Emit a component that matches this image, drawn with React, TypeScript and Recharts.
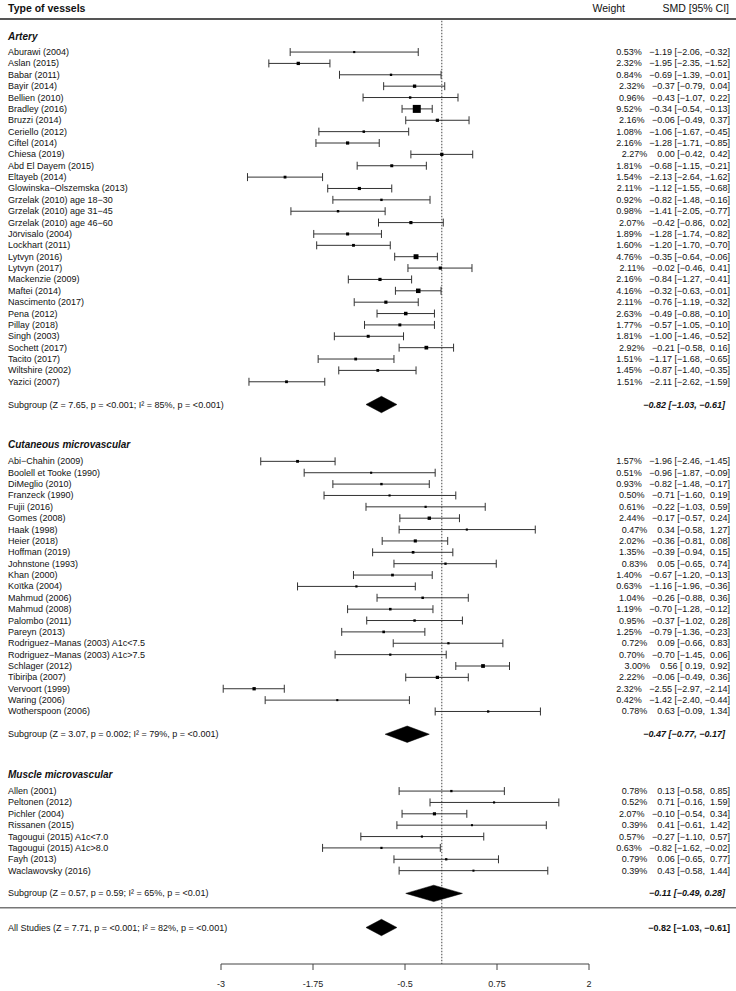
import React from "react"
import { ScatterChart, Scatter, XAxis, YAxis, ErrorBar, ReferenceLine } from "recharts"

// Artery
const arteryNames = [
  "Aburawi (2004)", "Aslan (2015)", "Babar (2011)", "Bayir (2014)", "Bellien (2010)",
  "Bradley (2016)", "Bruzzi (2014)", "Ceriello (2012)", "Ciftel (2014)", "Chiesa (2019)",
  "Abd El Dayem (2015)", "Eltayeb (2014)", "Glowinska\u2212Olszemska (2013)",
  "Grzelak (2010) age 18\u221230", "Grzelak (2010) age 31\u221245", "Grzelak (2010) age 46\u221260",
  "J\u00f6rvisalo (2004)", "Lockhart (2011)", "Lytvyn (2016)", "Lytvyn (2017)",
  "Mackenzie (2009)", "Maftei (2014)", "Nascimento (2017)", "Pena (2012)", "Pillay (2018)",
  "Singh (2003)", "Sochett (2017)", "Tacito (2017)", "Wiltshire (2002)", "Yazici (2007)",
]
const arteryWeight = [0.53, 2.32, 0.84, 2.32, 0.96, 9.52, 2.16, 1.08, 2.16, 2.27, 1.81, 1.54, 2.11, 0.92, 0.98, 2.07, 1.89, 1.6, 4.76, 2.11, 2.16, 4.16, 2.11, 2.63, 1.77, 1.81, 2.92, 1.51, 1.45, 1.51]
const arterySmd = [-1.19, -1.95, -0.69, -0.37, -0.43, -0.34, -0.06, -1.06, -1.28, 0.0, -0.68, -2.13, -1.12, -0.82, -1.41, -0.42, -1.28, -1.2, -0.35, -0.02, -0.84, -0.32, -0.76, -0.49, -0.57, -1.0, -0.21, -1.17, -0.87, -2.11]
const arteryLower = [-2.06, -2.35, -1.39, -0.79, -1.07, -0.54, -0.49, -1.67, -1.71, -0.42, -1.15, -2.64, -1.55, -1.48, -2.05, -0.86, -1.74, -1.7, -0.64, -0.46, -1.27, -0.63, -1.19, -0.88, -1.05, -1.46, -0.58, -1.68, -1.4, -2.62]
const arteryUpper = [-0.32, -1.52, -0.01, 0.04, 0.22, -0.13, 0.37, -0.45, -0.85, 0.42, -0.21, -1.62, -0.68, -0.16, -0.77, 0.02, -0.82, -0.7, -0.06, 0.41, -0.41, -0.01, -0.32, -0.1, -0.1, -0.52, 0.16, -0.65, -0.35, -1.59]

// Cutaneous microvascular
const cutNames = [
  "Abi\u2212Chahin (2009)", "Boolell et Tooke (1990)", "DiMeglio (2010)", "Franzeck (1990)",
  "Fujii (2016)", "Gomes (2008)", "Haak (1998)", "Heier (2018)", "Hoffman (2019)",
  "Johnstone (1993)", "Khan (2000)", "Ko\u00eftka (2004)", "Mahmud (2006)", "Mahmud (2008)",
  "Palombo (2011)", "Pareyn (2013)", "Rodriguez\u2212Manas (2003) A1c<7.5",
  "Rodriguez\u2212Manas (2003) A1c>7.5", "Schlager (2012)", "Tibiri\u00fea (2007)",
  "Vervoort (1999)", "Waring (2006)", "Wotherspoon (2006)",
]
const cutWeight = [1.57, 0.51, 0.93, 0.5, 0.61, 2.44, 0.47, 2.02, 1.35, 0.83, 1.4, 0.63, 1.04, 1.19, 0.95, 1.25, 0.72, 0.7, 3.0, 2.22, 2.32, 0.42, 0.78]
const cutSmd = [-1.96, -0.96, -0.82, -0.71, -0.22, -0.17, 0.34, -0.36, -0.39, 0.05, -0.67, -1.16, -0.26, -0.7, -0.37, -0.79, 0.09, -0.7, 0.56, -0.06, -2.55, -1.42, 0.63]
const cutLower = [-2.46, -1.87, -1.48, -1.6, -1.03, -0.57, -0.58, -0.81, -0.94, -0.65, -1.2, -1.96, -0.88, -1.28, -1.02, -1.36, -0.66, -1.45, 0.19, -0.49, -2.97, -2.4, -0.09]
const cutUpper = [-1.45, -0.09, -0.17, 0.19, 0.59, 0.24, 1.27, 0.08, 0.15, 0.74, -0.13, -0.36, 0.36, -0.12, 0.28, -0.23, 0.83, 0.06, 0.92, 0.36, -2.14, -0.44, 1.34]

// Muscle microvascular
const muscleNames = [
  "Allen (2001)", "Peltonen (2012)", "Pichler (2004)", "Rissanen (2015)",
  "Tagougui (2015) A1c<7.0", "Tagougui (2015) A1c>8.0", "Fayh (2013)", "Waclawovsky (2016)",
]
const muscleWeight = [0.78, 0.52, 2.07, 0.39, 0.57, 0.63, 0.79, 0.39]
const muscleSmd = [0.13, 0.71, -0.1, 0.41, -0.27, -0.82, 0.06, 0.43]
const muscleLower = [-0.58, -0.16, -0.54, -0.61, -1.1, -1.62, -0.65, -0.58]
const muscleUpper = [0.85, 1.59, 0.34, 1.42, 0.57, -0.02, 0.77, 1.44]

// pooled estimates: artery, cutaneous, muscle, overall
const pooledLabels = [
  "Subgroup (Z = 7.65, p = <0.001; I\u00b2 = 85%, p = <0.001)",
  "Subgroup (Z = 3.07, p = 0.002; I\u00b2 = 79%, p = <0.001)",
  "Subgroup (Z = 0.57, p = 0.59; I\u00b2 = 65%, p = <0.01)",
  "All Studies (Z = 7.71, p = <0.001; I\u00b2 = 82%, p = <0.001)",
]
const pooledSmd = [-0.82, -0.47, -0.11, -0.82]
const pooledLower = [-1.03, -0.77, -0.49, -1.03]
const pooledUpper = [-0.61, -0.17, 0.28, -0.61]

const groupTitles = ["Artery", "Cutaneous microvascular", "Muscle microvascular"]
const xTicks = [-3, -1.75, -0.5, 0.75, 2]

// row layout (one unit = one study line)
const groupStart = [0, 36, 65]
const headingRows = [-1.4, 34.5, 63.5]
const pooledRows = [31, 60, 74, 77]
const HEADER_ROW = -3.87
const HEADER_LINE = -2.9
const SEP_LINE = 75.26
const Y_MIN = -4.49
const Y_MAX = 80.21
const X_EDGE_L = -6.01
const X_EDGE_R = 4.01
const FONT = "'Liberation Sans', Arial, Helvetica, sans-serif"
const SP = "\u00a0"

// fixed width numbers: a blank stands in for the minus sign
const pad = (v: number) => (v < 0 ? "\u2212" + Math.abs(v).toFixed(2) : SP + v.toFixed(2))
const plain = (v: number) => (v < 0 ? "\u2212" : "") + Math.abs(v).toFixed(2)
const ciPad = (e: number, l: number, u: number) => `${pad(e)}${SP}[${pad(l)},${SP}${pad(u)}]`
const ciPlain = (e: number, l: number, u: number) => `${plain(e)} [${plain(l)}, ${plain(u)}]`

type Study = { row: number; est: number; err: number[]; w: number }
type RowText = { left: string; right?: string; kind: string; right2?: string }

const studies: Study[] = []
const rowText: Record<string, RowText> = {}

const groups = [
  [arteryNames, arteryWeight, arterySmd, arteryLower, arteryUpper],
  [cutNames, cutWeight, cutSmd, cutLower, cutUpper],
  [muscleNames, muscleWeight, muscleSmd, muscleLower, muscleUpper],
] as const

groups.forEach(([names, w, e, lo, hi], g) => {
  rowText[String(headingRows[g])] = { left: groupTitles[g], kind: "heading" }
  names.forEach((n, i) => {
    const row = groupStart[g] + i
    studies.push({ row, est: e[i], err: [e[i] - lo[i], hi[i] - e[i]], w: w[i] })
    rowText[String(row)] = {
      left: n,
      right: `${w[i].toFixed(2)}%${SP}${SP}${SP}${ciPad(e[i], lo[i], hi[i])}`,
      kind: "study",
    }
  })
})

pooledLabels.forEach((lab, i) => {
  rowText[String(pooledRows[i])] = {
    left: lab,
    right: ciPlain(pooledSmd[i], pooledLower[i], pooledUpper[i]),
    kind: i === 3 ? "overall" : "pooled",
  }
})
rowText[String(HEADER_ROW)] = { left: "Type of vessels", right: "SMD [95% CI]", right2: "Weight", kind: "header" }

const diamonds = pooledRows.map((r, i) => [
  { x: pooledLower[i], y: r },
  { x: pooledSmd[i], y: r - 0.72 },
  { x: pooledUpper[i], y: r },
  { x: pooledSmd[i], y: r + 0.72 },
  { x: pooledLower[i], y: r },
])

const yTicks = Object.keys(rowText).map(Number)

function RowTick(props: any) {
  const { y, payload } = props
  const info = rowText[String(payload.value)]
  if (!info) return null
  const base = { fontFamily: FONT, fill: "#111", dominantBaseline: "central" as const }
  if (info.kind === "header") {
    return (
      <g>
        <text {...base} x={8} y={y} fontSize={10.5} fontWeight="bold">{info.left}</text>
        <text {...base} x={625} y={y} fontSize={10.5} textAnchor="end">{info.right2}</text>
        <text {...base} x={729} y={y} fontSize={10.5} textAnchor="end">{info.right}</text>
      </g>
    )
  }
  if (info.kind === "heading") {
    return <text {...base} x={8} y={y} fontSize={10} fontWeight="bold" fontStyle="italic">{info.left}</text>
  }
  const pooled = info.kind === "pooled"
  const overall = info.kind === "overall"
  return (
    <g>
      <text {...base} x={8} y={y} fontSize={9}>{info.left}</text>
      <text
        {...base}
        x={pooled ? 725 : 730}
        y={y}
        fontSize={9}
        textAnchor="end"
        fontWeight={pooled || overall ? "bold" : "normal"}
        fontStyle={pooled ? "italic" : "normal"}
      >
        {info.right}
      </text>
    </g>
  )
}

const StudySquare = (props: any) => {
  const { cx, cy, payload } = props
  const s = 1.8 + 0.65 * payload.w
  return <rect x={cx - s / 2} y={cy - s / 2} width={s} height={s} fill="#000" />
}

export default function App() {
  return (
    <div style={{ position: "absolute", left: 0, top: 0, width: 736, height: 991, background: "#fff" }}>
      <ScatterChart width={736} height={991} margin={{ top: 1, right: 147, bottom: 0, left: 0 }}>
        <XAxis
          type="number"
          dataKey="x"
          domain={[-3, 2]}
          ticks={xTicks}
          allowDataOverflow
          height={27}
          stroke="#444"
          tickSize={6}
          tickMargin={11}
          tick={{ fill: "#222", fontSize: 9, fontFamily: FONT }}
        />
        <YAxis
          type="number"
          dataKey="y"
          domain={[Y_MIN, Y_MAX]}
          reversed
          allowDataOverflow
          width={221}
          ticks={yTicks}
          interval={0}
          axisLine={false}
          tickLine={false}
          tick={(p: any) => <RowTick {...p} />}
        />
        <ReferenceLine
          segment={[{ x: 0, y: -2.75 }, { x: 0, y: Y_MAX }]}
          stroke="#444"
          strokeDasharray="1.5 1.5"
          ifOverflow="visible"
        />
        <ReferenceLine
          segment={[{ x: X_EDGE_L, y: HEADER_LINE }, { x: X_EDGE_R, y: HEADER_LINE }]}
          stroke="#555"
          strokeWidth={2}
          ifOverflow="visible"
        />
        <ReferenceLine
          segment={[{ x: X_EDGE_L, y: SEP_LINE }, { x: X_EDGE_R, y: SEP_LINE }]}
          stroke="#777"
          strokeWidth={1.5}
          ifOverflow="visible"
        />
        <Scatter
          data={studies.map((s) => ({ ...s, x: s.est, y: s.row }))}
          shape={<StudySquare />}
          isAnimationActive={false}
        >
          <ErrorBar dataKey="err" direction="x" width={4} stroke="#333" strokeWidth={1} isAnimationActive={false} />
        </Scatter>
        {diamonds.map((d, i) => (
          <Scatter
            key={i}
            data={d}
            line={{ fill: "#000", stroke: "#000", strokeWidth: 0.5 }}
            lineType="joint"
            shape={() => <g />}
            isAnimationActive={false}
          />
        ))}
      </ScatterChart>
    </div>
  )
}
